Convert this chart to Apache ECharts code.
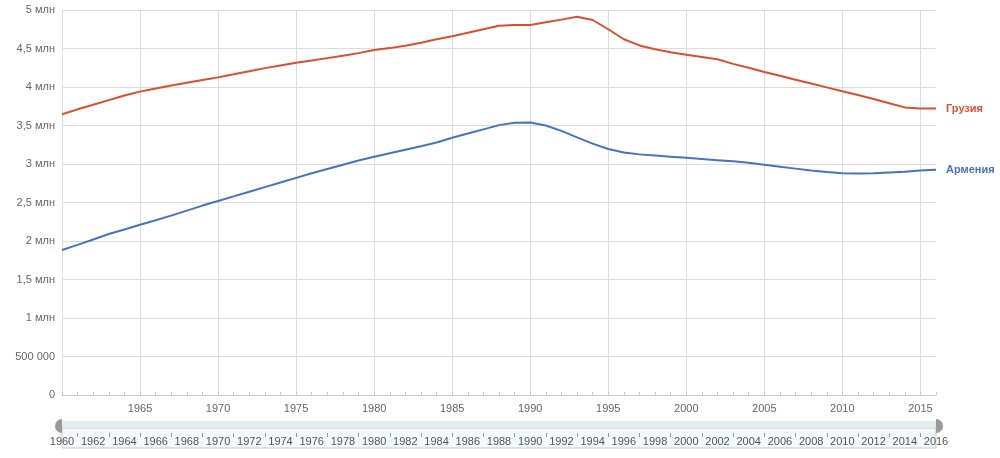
<!DOCTYPE html>
<html>
<head>
<meta charset="utf-8">
<script src="https://cdn.jsdelivr.net/npm/echarts@6/dist/echarts.min.js"></script>
<style>
html,body{margin:0;padding:0;background:#fff;}
#chart{width:1000px;height:458px;}
</style>
</head>
<body>
<div id="chart"></div>
<script>
// Years 1960..2016
var years = [];
for (var y = 1960; y <= 2016; y++) years.push(String(y));

// Population, millions
var georgia = [
  3.646, 3.71, 3.77, 3.83, 3.89, 3.94, 3.98, 4.02, 4.055, 4.09,
  4.125, 4.165, 4.205, 4.245, 4.28, 4.315, 4.345, 4.375, 4.405, 4.44,
  4.48, 4.505, 4.535, 4.575, 4.62, 4.66, 4.705, 4.75, 4.795, 4.805,
  4.805, 4.84, 4.875, 4.912, 4.87, 4.75, 4.62, 4.54, 4.49, 4.45,
  4.42, 4.39, 4.36, 4.30, 4.25, 4.195, 4.145, 4.095, 4.045, 3.995,
  3.945, 3.895, 3.845, 3.79, 3.735, 3.72, 3.72
];
var armenia = [
  1.883, 1.95, 2.02, 2.09, 2.15, 2.21, 2.27, 2.33, 2.395, 2.46,
  2.52, 2.58, 2.64, 2.70, 2.76, 2.82, 2.88, 2.935, 2.99, 3.045,
  3.095, 3.14, 3.185, 3.23, 3.28, 3.34, 3.395, 3.45, 3.505, 3.535,
  3.54, 3.50, 3.43, 3.345, 3.265, 3.195, 3.15, 3.125, 3.11, 3.095,
  3.08, 3.065, 3.05, 3.035, 3.015, 2.99, 2.965, 2.94, 2.915, 2.895,
  2.88, 2.877, 2.88, 2.89, 2.90, 2.915, 2.925
];
var seriesNames = ['Грузия', 'Армения'];
var yTickLabels = ['0', '500 000', '1 млн', '1,5 млн', '2 млн', '2,5 млн', '3 млн', '3,5 млн', '4 млн', '4,5 млн', '5 млн'];

var FONT = "'Liberation Sans', Arial, sans-serif";
var RED = '#dc4e2c', BLUE = '#4672c4';

var chart = echarts.init(document.getElementById('chart'), null, {renderer: 'canvas'});
chart.setOption({
  animation: false,
  textStyle: {fontFamily: FONT},
  grid: [
    {left: 62, right: 64, top: 10, bottom: 63},
    {left: 62, right: 64, top: 428, height: 20, show: true, backgroundColor: '#f3f9fc', borderColor: '#c4c8ca', borderWidth: 1}
  ],
  xAxis: [
    {
      type: 'category', data: years, boundaryGap: false, gridIndex: 0,
      axisLine: {lineStyle: {color: '#c8c8c8'}},
      axisTick: {show: true, interval: 0, inside: true, length: 3, lineStyle: {color: '#c8c8c8'}},
      axisLabel: {
        interval: function (i, v) { return (+v) % 5 === 0 && +v !== 1960; },
        color: '#666', fontSize: 11, fontFamily: FONT, margin: 8
      },
      splitLine: {show: true, interval: function (i, v) { return (+v) % 5 === 0; }, lineStyle: {color: '#dcdcdc'}}
    },
    {
      type: 'category', data: years, boundaryGap: false, gridIndex: 1, position: 'top', offset: -5,
      axisLine: {show: false, onZero: false},
      axisTick: {show: true, interval: function (i) { return i % 2 === 1; }, inside: true, length: 4, lineStyle: {color: '#999'}},
      axisLabel: {
        interval: function (i) { return i % 2 === 0; },
        inside: true, margin: 3, color: '#555', fontSize: 11, fontFamily: FONT
      },
      splitLine: {show: false}
    }
  ],
  yAxis: [
    {
      type: 'value', min: 0, max: 5, interval: 0.5, gridIndex: 0,
      axisLine: {show: false}, axisTick: {show: false},
      axisLabel: {
        color: '#666', fontSize: 11, fontFamily: FONT, margin: 7,
        formatter: function (v) { return yTickLabels[Math.round(v / 0.5)]; }
      },
      splitLine: {lineStyle: {color: '#dcdcdc'}}
    },
    {type: 'value', gridIndex: 1, show: false}
  ],
  series: [
    {
      name: seriesNames[0], type: 'line', data: georgia, xAxisIndex: 0, yAxisIndex: 0,
      showSymbol: false, lineStyle: {color: RED, width: 2}, itemStyle: {color: RED},
      endLabel: {show: true, formatter: '{a}', color: RED, fontWeight: 'bold', fontSize: 11, fontFamily: FONT, distance: 10}
    },
    {
      name: seriesNames[1], type: 'line', data: armenia, xAxisIndex: 0, yAxisIndex: 0,
      showSymbol: false, lineStyle: {color: BLUE, width: 2}, itemStyle: {color: BLUE},
      endLabel: {show: true, formatter: '{a}', color: BLUE, fontWeight: 'bold', fontSize: 11, fontFamily: FONT, distance: 10}
    }
  ],
  graphic: [
    {type: 'rect', shape: {x: 62, y: 421, width: 874, height: 7}, style: {fill: '#e2edf1'}, silent: true},
    {type: 'sector', shape: {cx: 62, cy: 426, r: 7, r0: 0, startAngle: Math.PI / 2, endAngle: Math.PI * 1.5}, style: {fill: '#999'}, silent: true},
    {type: 'sector', shape: {cx: 936, cy: 426, r: 7, r0: 0, startAngle: -Math.PI / 2, endAngle: Math.PI / 2}, style: {fill: '#999'}, silent: true}
  ]
});
</script>
</body>
</html>
